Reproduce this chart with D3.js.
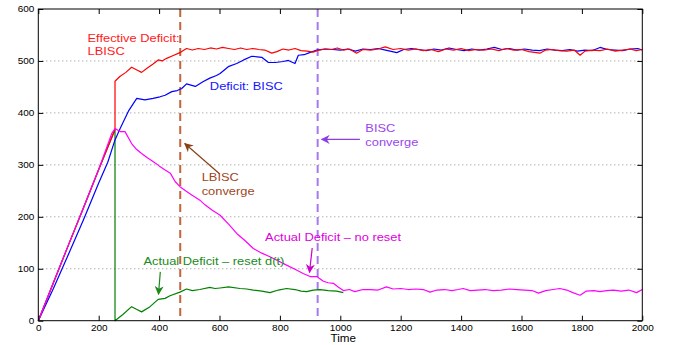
<!DOCTYPE html>
<html>
<head>
<meta charset="utf-8">
<script src="https://cdn.jsdelivr.net/npm/d3@7"></script>
<style>
  html, body { margin: 0; padding: 0; background: #fff; }
  svg { display: block; font-family: "Liberation Sans", Arial, Helvetica, sans-serif; }
</style>
</head>
<body>
<div id="chart"></div>
<script>
// values: [time, deficit]
const effectiveLBISC = [[0,0],[50,73],[100,146],[150,218],[200,291],[254,368],[254,461],[270,470],[290,478],[309,488],[325,483],[342,478],[360,486],[380,494],[397,502],[410,500],[425,505],[445,510],[469,516],[480,520],[491,524],[510,521],[530,524],[550,522],[570,525],[590,523],[610,526],[630,524],[650,522],[670,525],[690,522],[710,524],[730,522],[750,521],[773,515],[790,518],[810,523],[830,521],[850,524],[870,520],[890,519],[910,517],[930,521],[950,523],[970,522],[990,525],[1010,521],[1030,523],[1054,515],[1075,522],[1100,521],[1125,523],[1149,527],[1175,522],[1200,524],[1225,521],[1250,523],[1275,520],[1300,522],[1325,518],[1350,523],[1375,521],[1400,524],[1425,520],[1450,522],[1475,521],[1500,523],[1525,520],[1550,524],[1575,521],[1600,522],[1625,518],[1661,515],[1680,521],[1700,522],[1725,520],[1750,519],[1775,521],[1794,511],[1810,519],[1835,521],[1860,520],[1885,523],[1910,519],[1935,521],[1960,523],[1980,520],[2000,522]];
const deficitBISC = [[0,0],[50,62],[100,128],[150,195],[200,265],[230,305],[254,348],[271,370],[300,405],[326,428],[353,425],[380,428],[403,431],[420,434],[442,441],[460,443],[475,447],[491,456],[520,451],[545,460],[568,467],[590,472],[602,476],[629,489],[657,495],[680,502],[707,509],[725,508],[740,507],[762,497],[785,497],[811,499],[828,501],[850,495],[861,511],[880,512],[894,515],[922,521],[950,523],[975,522],[1000,521],[1025,523],[1050,519],[1075,523],[1100,522],[1125,524],[1150,521],[1187,516],[1210,522],[1235,524],[1260,522],[1285,520],[1310,523],[1335,521],[1360,525],[1385,522],[1410,520],[1435,523],[1460,521],[1485,523],[1510,526],[1535,522],[1560,524],[1585,521],[1610,523],[1635,521],[1660,520],[1685,523],[1710,521],[1735,520],[1760,522],[1785,519],[1810,521],[1835,520],[1860,526],[1885,522],[1910,521],[1935,520],[1960,523],[1985,524],[2000,521]];
const actualNoReset = [[0,0],[50,73],[100,146],[150,218],[200,291],[243,360],[254,370],[271,364],[287,364],[309,341],[325,330],[342,322],[360,314],[381,306],[400,298],[420,290],[437,284],[453,268],[469,258],[490,249],[508,242],[535,232],[552,223],[575,213],[602,203],[630,186],[657,168],[685,154],[712,139],[740,130],[767,123],[795,115],[822,107],[850,99],[877,91],[900,85],[922,85],[944,76],[960,73],[977,72],[993,65],[1010,58],[1030,60],[1048,56],[1075,60],[1100,60],[1125,59],[1153,65],[1175,61],[1200,62],[1225,60],[1250,61],[1275,60],[1297,55],[1320,59],[1345,60],[1370,58],[1390,60],[1407,62],[1430,58],[1455,59],[1480,60],[1505,58],[1533,59],[1560,61],[1585,60],[1610,59],[1635,58],[1656,53],[1680,58],[1705,60],[1727,62],[1750,59],[1770,54],[1794,49],[1815,57],[1840,58],[1860,56],[1882,58],[1905,59],[1930,57],[1955,59],[1981,54],[2000,60]];
const actualReset = [[0,0],[50,73],[100,146],[150,218],[200,291],[254,368],[254,0],[280,12],[309,27],[325,22],[342,17],[370,27],[397,41],[420,43],[436,48],[469,55],[491,61],[510,58],[535,60],[568,64],[585,62],[602,63],[630,65],[668,62],[690,61],[712,59],[740,57],[767,54],[795,59],[822,62],[850,60],[870,57],[889,56],[910,59],[933,60],[960,58],[988,57],[1010,54]];

const convergeTimes = [470, 925];   // LBISC, BISC
const xTicks = [0, 200, 400, 600, 800, 1000, 1200, 1400, 1600, 1800, 2000];
const yTicks = [0, 100, 200, 300, 400, 500, 600];
const yGrid = [100, 200, 300, 400, 500];

const width = 673, height = 345;
const margin = { top: 9, right: 30.7, bottom: 24.3, left: 38.3 };
const graphWidth = width - margin.left - margin.right;
const graphHeight = height - margin.top - margin.bottom;
const stretch = 1.11; // text in the source is a bit wider than tall

const svg = d3.select('#chart').append('svg')
  .attr('width', width)
  .attr('height', height);

const defs = svg.append('defs');
function arrowMarker(id, color) {
  defs.append('marker')
    .attr('id', id)
    .attr('viewBox', '0 0 10 10')
    .attr('refX', 9).attr('refY', 5)
    .attr('markerWidth', 9).attr('markerHeight', 9)
    .attr('markerUnits', 'userSpaceOnUse')
    .attr('orient', 'auto')
    .append('path')
    .attr('d', 'M0,0 L10,5 L0,10 L3,5 Z')
    .attr('fill', color);
}

const chart = svg.append('g')
  .attr('transform', `translate(${margin.left},${margin.top})`);

const xScale = d3.scaleLinear().domain([0, 2000]).range([0, graphWidth]);
const yScale = d3.scaleLinear().domain([0, 600]).range([graphHeight, 0]);

// dotted horizontal grid
chart.append('g')
  .selectAll('line')
  .data(yGrid)
  .join('line')
  .attr('x1', 0).attr('x2', graphWidth)
  .attr('y1', d => yScale(d)).attr('y2', d => yScale(d))
  .attr('stroke', '#8a8a8a')
  .attr('stroke-width', 1)
  .attr('stroke-dasharray', '1,3');

// convergence markers
const dashColors = ['#c3643a', '#a779ef'];
chart.append('g')
  .selectAll('line')
  .data(convergeTimes)
  .join('line')
  .attr('x1', d => xScale(d)).attr('x2', d => xScale(d))
  .attr('y1', 0).attr('y2', graphHeight)
  .attr('stroke', (d, i) => dashColors[i])
  .attr('stroke-width', 2)
  .attr('stroke-dasharray', '8,5');

// the series
const line = d3.line()
  .x(d => xScale(d[0]))
  .y(d => yScale(d[1]));

const series = [
  { data: actualReset, color: '#008000' },
  { data: deficitBISC, color: '#0000ff' },
  { data: effectiveLBISC, color: '#ff0000' },
  { data: actualNoReset, color: '#ff00ff' }
];
series.forEach(s => {
  chart.append('path')
    .datum(s.data)
    .attr('fill', 'none')
    .attr('stroke', s.color)
    .attr('stroke-width', 1.2)
    .attr('stroke-linejoin', 'round')
    .attr('d', line);
});

// axes, matlab style: inward ticks on all four sides
const tickLen = 5;
const fmt = d3.format('d');
function styleAxis(g) {
  g.select('.domain').remove();
  g.selectAll('.tick line').attr('stroke', '#000');
  g.selectAll('.tick text').attr('font-size', 9).attr('fill', '#000')
    .attr('font-family', '"Liberation Sans", Arial, sans-serif');
}
chart.append('g')
  .attr('transform', `translate(0,${graphHeight})`)
  .call(d3.axisBottom(xScale).tickValues(xTicks).tickFormat(fmt).tickSizeInner(-tickLen).tickSizeOuter(0).tickPadding(4))
  .call(styleAxis);
chart.append('g')
  .call(d3.axisTop(xScale).tickValues(xTicks).tickFormat('').tickSizeInner(-tickLen).tickSizeOuter(0))
  .call(styleAxis);
chart.append('g')
  .call(d3.axisLeft(yScale).tickValues(yTicks).tickFormat(fmt).tickSizeInner(-tickLen).tickSizeOuter(0).tickPadding(4))
  .call(styleAxis);
chart.append('g')
  .attr('transform', `translate(${graphWidth},0)`)
  .call(d3.axisRight(yScale).tickValues(yTicks).tickFormat('').tickSizeInner(-tickLen).tickSizeOuter(0))
  .call(styleAxis);

// stretch tick labels horizontally like the source
chart.selectAll('.tick text').each(function () {
  const t = d3.select(this);
  t.attr('transform', `scale(${stretch},1)`)
   .attr('x', (+t.attr('x') || 0) / stretch);
});

chart.append('rect')
  .attr('width', graphWidth).attr('height', graphHeight)
  .attr('fill', 'none').attr('stroke', '#000').attr('stroke-width', 1);

svg.append('text')
  .attr('transform', `translate(${margin.left + xScale(1000) + 3},${height - 3.5}) scale(${stretch},1)`)
  .attr('text-anchor', 'middle')
  .attr('font-size', 10.5)
  .text('Time');

// annotations (placed in data units)
function label(lines, t, v, color) {
  const g = chart.append('g')
    .attr('transform', `translate(${xScale(t)},${yScale(v)}) scale(${stretch},1)`);
  lines.forEach((s, i) => {
    g.append('text')
      .attr('y', i * 13.5)
      .attr('font-size', 11.6)
      .attr('fill', color)
      .text(s);
  });
}
function arrow(t0, v0, t1, v1, color, id) {
  arrowMarker(id, color);
  chart.append('line')
    .attr('x1', xScale(t0)).attr('y1', yScale(v0))
    .attr('x2', xScale(t1)).attr('y2', yScale(v1))
    .attr('stroke', color).attr('stroke-width', 1.2)
    .attr('marker-end', `url(#${id})`);
}

label(['Effective Deficit:', 'LBISC'], 163, 537, '#ff1a1a');
label(['Deficit: BISC'], 568, 444, '#1414ff');
label(['LBISC', 'converge'], 541, 268, '#a0461e');
arrow(600, 283, 485, 341, '#8b3f17', 'a1');
label(['BISC', 'converge'], 1083, 363, '#9a45ee');
arrow(1065, 349, 938, 349, '#8a3fe6', 'a2');
label(['Actual Deficit \u2013 no reset'], 751, 154, '#dd00dd');
arrow(907, 140, 898, 93, '#cc00cc', 'a3');
label(['Actual Deficit \u2013 reset d(t)'], 348, 107, '#1a8a1a');
arrow(404, 94, 398, 51, '#1a8a1a', 'a4');
</script>
</body>
</html>
